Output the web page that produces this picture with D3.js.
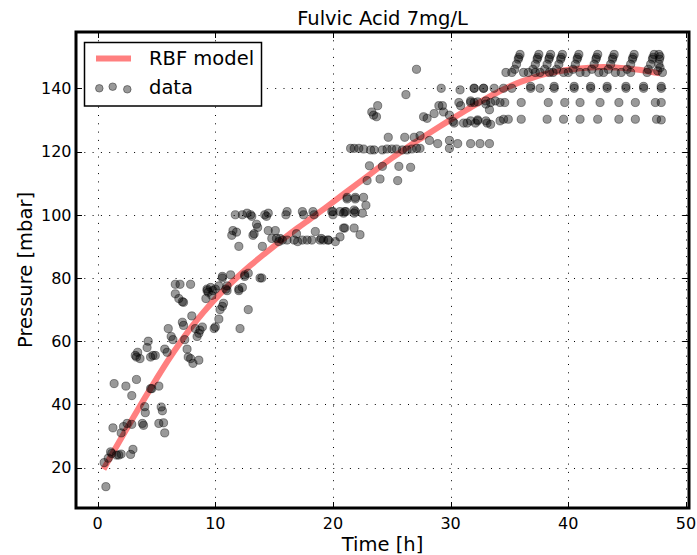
<!DOCTYPE html>
<html>
<head>
<meta charset="utf-8">
<script src="https://cdn.jsdelivr.net/npm/d3@7"></script>
<style>
  body { margin: 0; background: #fff; }
  svg { display: block; font-family: "DejaVu Sans", sans-serif; }
</style>
</head>
<body>
<div id="chart"></div>
<script>
// fitted RBF curve, sampled by eye
var modelTime = [0.5, 1, 2, 3, 4, 5, 6, 7, 8, 9, 10, 11, 12, 13, 14, 15, 16, 17, 18, 19, 20, 21, 22, 23, 24, 25, 26, 27, 28, 29, 30, 31, 32, 33, 34, 35, 36, 37, 38, 39, 40, 41, 42, 43, 44, 45, 46, 47, 47.8];
var modelPressure = [19.5, 22.8, 29.3, 35.7, 42, 48.1, 54, 59.5, 64.6, 69.2, 73.4, 77.2, 80.7, 84, 87.1, 90.1, 93, 95.8, 98.5, 101.2, 104, 106.8, 109.6, 112.4, 115.2, 117.9, 120.5, 123, 125.4, 127.75, 130.05, 132.35, 134.6, 136.75, 138.75, 140.55, 142.1, 143.4, 144.45, 145.25, 145.85, 146.3, 146.6, 146.7, 146.6, 146.3, 145.85, 145.25, 144.7];

// measurements [time h, pressure mbar]
var earlyPoints = [
  [0.7,14],[0.55,21.6],[0.9,23],[1.2,24.5],[1.6,24],[1.8,24],[2.0,24.3],[1.1,25],[1.3,32.6],[2.0,31],
  [2.2,33],[2.5,34],[2.9,33.7],[3.0,25.8],[2.8,24.2],[1.4,46.6],[2.4,45.8],[2.9,42.8],[3.3,47.9],[4.6,45],
  [4.5,45],[5.2,45.8],[4.0,39.3],[4.05,37.4],[3.8,34],[3.9,33.4],[5.4,39.2],[5.5,38],[5.2,34],[5.6,34.2],
  [5.7,31],[3.4,56.5],[3.6,54.5],[3.3,55],[3.2,55.5],[4.3,60],[4.2,58],[4.7,55.5],[4.9,55.5],[4.5,55],
  [5.7,57.5],[5.9,56.5],[6.0,64],[6.25,61.5],[6.4,60.5],[7.2,66],[7.3,65],[7.4,60.5],[7.6,57.5],[7.7,55],
  [7.9,54.5],[8.1,53],[8.6,54],[8.0,68],[8.3,64],[8.7,63.5],[8.9,64.5],[8.6,62.5],[8.45,61.5],[9.9,64],
  [10.0,64.5],[10.3,67],[12.1,64],[12.8,70],[6.6,78],[7.0,78],[7.9,78],[6.6,75],[6.9,73.5],[7.2,72.5],
  [7.3,72.3],[9.3,76.5],[9.6,77],[9.7,74.5],[9.2,73.5],[9.4,75.5],[10.0,76.5],[10.3,77.5],[10.6,71],[10.4,70],
  [10.7,72],[10.9,76.5],[11.0,77.5],[10.6,80.5],[11.3,81],[12.0,76],[12.3,77],[12.5,80.5],[12.8,81.5],[13.95,80]
];
var middlePoints = [
  [11.7,100],[12.3,100],[12.7,100.5],[13.0,100],[13.1,99.5],[14.2,100],[14.35,99.5],[14.5,100.5],[16.0,100],[16.1,101],
  [17.4,101],[17.5,100],[18.3,101],[18.4,100],[19.9,101],[20.0,100],[20.9,100.5],[21.1,101],[21.8,100.5],[21.9,101],
  [21.2,105],[21.9,105],[13.5,97],[13.6,96],[11.5,95],[11.8,94.5],[11.4,93.5],[13.2,93.5],[13.3,94],[12.0,90],
  [14.0,90],[14.5,95],[15.1,95],[14.8,92.5],[15.2,92.5],[15.5,92.5],[15.4,91.5],[15.7,92],[16.1,92],[16.7,92],
  [17.0,91.5],[17.4,92],[17.8,92],[18.2,92],[18.9,92],[19.2,92],[19.6,92],[20.2,91.5],[18.5,94.7],[16.9,94],
  [20.9,95.8],[21.8,95.8],[20.6,93],[10.6,80],[12.5,81],[13.8,80],[9.3,76],[9.8,76],[11.0,76],[12.0,76.5]
];
var risePoints = [
  [27.1,146],[26.2,138],[23.8,134.5],[23.3,132.5],[23.45,131.5],[23.7,131],[21.5,121],[21.8,121],[22.2,121],[22.6,120.8],
  [23.2,120.5],[23.5,120.5],[24.2,120.5],[24.6,120.8],[25.0,120.8],[25.4,120.8],[25.9,120.5],[26.3,120.5],[26.7,120.8],[27.1,121],
  [27.4,121],[24.7,124.5],[26.1,124.5],[26.9,124.5],[27.4,125],[28.2,123.5],[28.9,122.5],[29.9,123.5],[29.9,121],[30.6,122.5],
  [31.7,122.5],[32.5,122.5],[33.3,122.5],[27.7,131],[28.0,130.5],[28.6,132],[29.0,134.5],[29.3,134.5],[29.4,132.5],[29.2,140],
  [30.8,139.5],[32.0,140],[32.8,140],[29.9,131.5],[30.2,129.5],[30.3,129],[30.7,135.5],[30.85,134.5],[31.1,129],[31.4,129],
  [31.7,135.5],[32.0,135.5],[32.1,129],[32.3,130],[33.0,135],[33.1,129],[23.1,115.5],[24.2,115.3],[25.6,115.3],[26.6,115],
  [22.9,110.8],[24.0,111.3],[25.5,110.8],[21.2,105.5],[21.9,105.5],[22.6,105.5],[22.8,103],[20.0,101],[20.6,101],[21.0,101],
  [21.8,101.5],[22.5,100.5],[21.0,95.8],[22.3,93.7],[19.0,92.5],[19.6,92]
];
var plateauPoints = [
  // row near 140
  [32.0,140],[32.8,140],[33.7,140],[34.5,140],[35.2,140],[36.8,140],[36.8,140.6],[37.6,140],[38.8,140],[38.8,140.6],
  [40.5,140],[40.5,140.6],[41.9,140],[41.9,140.6],[43.3,140],[43.3,140.6],[44.9,140],[44.9,140.6],[46.4,140],[46.4,140.6],
  [47.9,140],[47.9,140.6],
  // row near 135
  [34.6,135.5],[36.0,135.5],[38.3,135.5],[39.7,135.5],[41.0,135.5],[42.7,135.5],[44.3,135.5],[45.7,135.5],[47.4,135.5],[47.9,135.5],
  // row near 130
  [34.5,130.2],[36.0,130.2],[38.2,130.2],[39.6,130.2],[41.0,130.2],[42.5,130.2],[44.3,130.2],[45.7,130.2],[47.5,130.2],[47.9,130],
  // transition 31-35
  [31.7,136],[32.3,135.7],[33.0,136],[33.4,135.5],[33.8,136],[34.2,135.5],[33.3,133.2],[33.4,128.6],[32.3,129.7],[31.7,129.7],
  [33.0,129.7],[34.2,129.7],[34.9,130.2],
  // stepped clusters at the top
  [35.9,150.7],[35.8,149.8],[35.75,149.2],[35.6,147.6],[35.45,146],[35.2,145],[34.7,145],
  [37.5,150.7],[37.4,149.8],[37.35,149.2],[37.2,147.6],[37.0,146],[36.6,145],[36.2,145],
  [38.5,150.7],[38.4,149.8],[38.35,149.2],[38.2,147.6],[38.0,146],[37.6,145],[37.2,145],
  [39.5,150.7],[39.4,149.8],[39.35,149.2],[39.2,147.6],[39.0,146],[38.7,145],[38.4,145],
  [40.9,150.7],[40.8,149.8],[40.75,149.2],[40.6,147.6],[40.4,146],[40.0,145],[39.6,145],
  [42.5,150.7],[42.4,149.8],[42.35,149.2],[42.2,147.6],[42.0,146],[41.5,145],[41.0,145],
  [43.9,150.7],[43.8,149.8],[43.75,149.2],[43.6,147.6],[43.4,146],[43.0,145],[42.6,145],
  [45.6,150.7],[45.5,149.8],[45.45,149.2],[45.3,147.6],[45.0,146],[44.5,145],[44.0,145],
  [47.3,150.7],[47.2,149.8],[47.15,149.2],[47.0,147.6],[46.8,146],[46.7,145],[45.3,145],
  [47.7,150.7],[47.8,150],[47.75,149.2],[47.7,147.6],[47.8,146.5],[48.0,145],[47.6,145.5]
];

var xTicks = [0, 10, 20, 30, 40, 50];
var yTicks = [20, 40, 60, 80, 100, 120, 140];

var W = 697, H = 555;
var L = 76, R = 689, T = 32, B = 508;

var svg = d3.select('#chart').append('svg')
  .attr('width', W)
  .attr('height', H);

var x = d3.scaleLinear().domain([-1.84, 50.26]).range([L, R]);
var y = d3.scaleLinear().domain([7.25, 157.8]).range([B, T]);

// grid
var grid = svg.append('g').attr('class', 'grid');
grid.selectAll('line.gx').data(xTicks).enter().append('line')
  .attr('x1', function(d){ return Math.round(x(d)) + 0.5; })
  .attr('x2', function(d){ return Math.round(x(d)) + 0.5; })
  .attr('y1', T).attr('y2', B)
  .style('stroke', '#000').style('stroke-width', 1)
  .style('stroke-dasharray', '1,7.3');
grid.selectAll('line.gy').data(yTicks).enter().append('line')
  .attr('y1', function(d){ return Math.round(y(d)) + 0.5; })
  .attr('y2', function(d){ return Math.round(y(d)) + 0.5; })
  .attr('x1', L).attr('x2', R)
  .style('stroke', '#000').style('stroke-width', 1)
  .style('stroke-dasharray', '1,7.3');

// model curve
var line = d3.line()
  .x(function(d){ return x(d[0]); })
  .y(function(d){ return y(d[1]); })
  .curve(d3.curveCatmullRom);
var model = modelTime.map(function(t, i){ return [t, modelPressure[i]]; });
svg.append('path')
  .datum(model)
  .attr('d', line)
  .style('fill', 'none')
  .style('stroke', '#ff0000')
  .style('stroke-opacity', 0.5)
  .style('stroke-width', 6);

// scatter
var allPoints = earlyPoints.concat(middlePoints, risePoints, plateauPoints);
svg.append('g').selectAll('circle').data(allPoints).enter().append('circle')
  .attr('cx', function(d){ return x(d[0]); })
  .attr('cy', function(d){ return y(d[1]); })
  .attr('r', 4.1)
  .style('fill', '#000').style('fill-opacity', 0.4)
  .style('stroke', '#000').style('stroke-opacity', 0.4).style('stroke-width', 1);

// ticks (inside, all four sides)
var tk = svg.append('g');
xTicks.forEach(function(d){
  var px = Math.round(x(d)) + 0.5;
  tk.append('line').attr('x1', px).attr('x2', px).attr('y1', B).attr('y2', B - 6)
    .style('stroke', '#000').style('stroke-width', 1);
  tk.append('line').attr('x1', px).attr('x2', px).attr('y1', T).attr('y2', T + 6)
    .style('stroke', '#000').style('stroke-width', 1);
  svg.append('text').attr('x', x(d)).attr('y', 529)
    .attr('text-anchor', 'middle').attr('font-size', 16).text(d);
});
yTicks.forEach(function(d){
  var py = Math.round(y(d)) + 0.5;
  tk.append('line').attr('x1', L).attr('x2', L + 6).attr('y1', py).attr('y2', py)
    .style('stroke', '#000').style('stroke-width', 1);
  tk.append('line').attr('x1', R).attr('x2', R - 6).attr('y1', py).attr('y2', py)
    .style('stroke', '#000').style('stroke-width', 1);
  svg.append('text').attr('x', 71.5).attr('y', y(d)).attr('dy', '0.36em')
    .attr('text-anchor', 'end').attr('font-size', 16).text(d);
});

// frame
svg.append('rect')
  .attr('x', L).attr('y', T).attr('width', R - L).attr('height', B - T)
  .style('fill', 'none').style('stroke', '#000').style('stroke-width', 3);

// title and labels
svg.append('text').attr('x', (L + R) / 2).attr('y', 25)
  .attr('text-anchor', 'middle').attr('font-size', 19.5).text('Fulvic Acid 7mg/L');
svg.append('text').attr('x', (L + R) / 2).attr('y', 550.5)
  .attr('text-anchor', 'middle').attr('font-size', 19.5).text('Time [h]');
svg.append('text')
  .attr('transform', 'translate(32,' + (T + B) / 2 + ') rotate(-90)')
  .attr('text-anchor', 'middle').attr('font-size', 19.5).text('Pressure [mbar]');

// legend
var lg = svg.append('g');
lg.append('rect').attr('x', 84.5).attr('y', 42.5).attr('width', 177).attr('height', 63.5)
  .style('fill', '#fff').style('stroke', '#000').style('stroke-width', 1.5);
lg.append('line').attr('x1', 96).attr('x2', 131).attr('y1', 58.5).attr('y2', 58.5)
  .style('stroke', '#ff0000').style('stroke-opacity', 0.5).style('stroke-width', 6);
lg.append('text').attr('x', 149).attr('y', 65).attr('font-size', 19.5).text('RBF model');
[[99.3, 88.3], [112.7, 86.7], [127.3, 89.3]].forEach(function(p){
  lg.append('circle').attr('cx', p[0]).attr('cy', p[1]).attr('r', 3.8)
    .style('fill', '#000').style('fill-opacity', 0.4)
    .style('stroke', '#000').style('stroke-opacity', 0.4).style('stroke-width', 1);
});
lg.append('text').attr('x', 149).attr('y', 93.5).attr('font-size', 19.5).text('data');
</script>
</body>
</html>
